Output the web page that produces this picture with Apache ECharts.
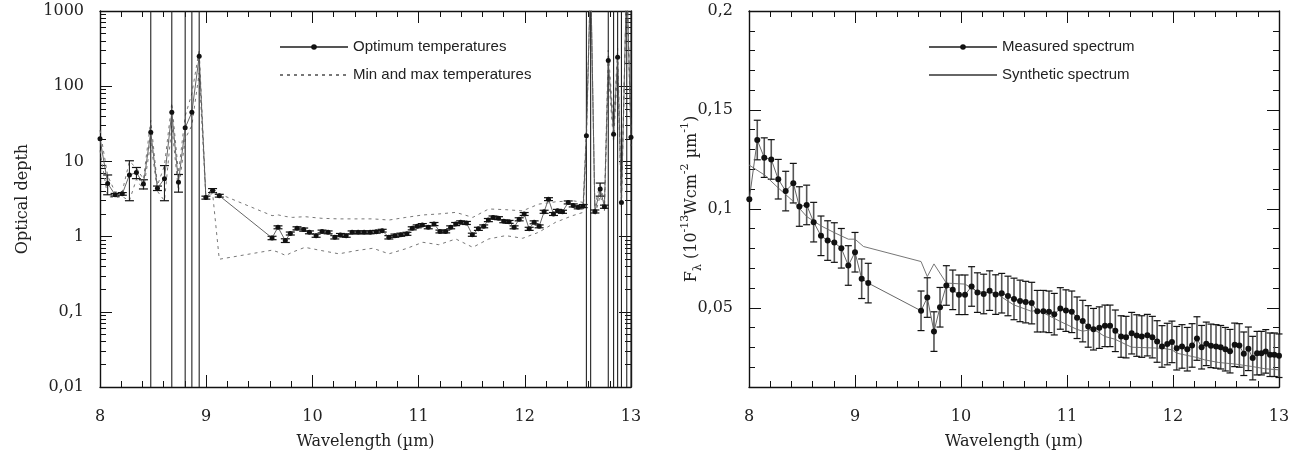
<!DOCTYPE html>
<html>
<head>
<meta charset="utf-8">
<script src="https://cdn.jsdelivr.net/npm/echarts@6/dist/echarts.min.js"></script>
<style>
  html, body { margin: 0; padding: 0; background: #fff; }
  #chart { width: 1307px; height: 455px; }
</style>
</head>
<body>
<div id="chart"></div>
<script>
// ---------- Optical depth (left panel) ----------
const lamOpt = [
  8.000, 8.072, 8.142, 8.210, 8.277, 8.343, 8.409, 8.478, 8.541, 8.607,
  8.676, 8.739, 8.802, 8.865, 8.934, 8.997, 9.060, 9.123,
  9.620, 9.676, 9.745, 9.792, 9.855, 9.918, 9.972, 10.035, 10.091, 10.148,
  10.211, 10.264, 10.318, 10.374, 10.431, 10.487, 10.544, 10.601, 10.657, 10.720,
  10.777, 10.833, 10.890, 10.940, 10.987, 11.035, 11.091, 11.145, 11.201, 11.255,
  11.302, 11.349, 11.396, 11.450, 11.506, 11.563, 11.613, 11.657, 11.701, 11.752,
  11.802, 11.852, 11.899, 11.947, 11.994, 12.041, 12.088, 12.135, 12.182, 12.223,
  12.270, 12.308, 12.355, 12.409, 12.456, 12.503, 12.550,
  12.580, 12.620, 12.660, 12.710, 12.750, 12.786, 12.836, 12.874, 12.910, 12.960, 13.000
];
const tauOpt = [
  20, 5.1, 3.6, 3.7, 6.6, 7.1, 5.0, 24.5, 4.4, 5.9,
  45, 5.3, 28, 45, 250, 3.3, 4.1, 3.5,
  0.96, 1.33, 0.885, 1.1, 1.29, 1.24, 1.14, 1.03, 1.17, 1.14,
  0.98, 1.05, 1.03, 1.14, 1.14, 1.14, 1.14, 1.16, 1.2, 0.98,
  1.03, 1.06, 1.09, 1.29, 1.37, 1.43, 1.33, 1.47, 1.17, 1.17,
  1.33, 1.47, 1.55, 1.52, 1.06, 1.27, 1.37, 1.66, 1.8, 1.76,
  1.6, 1.57, 1.33, 1.7, 2.0, 1.27, 1.55, 1.37, 2.14, 3.15,
  2.0, 2.2, 2.14, 2.85, 2.6, 2.45, 2.55,
  22, 3000, 2.16, 4.3, 2.5, 219, 23, 242, 2.85, 3000, 21
];
// symmetric uncertainty on the optimum optical depth (10000 = unbounded)
const tauErr = [
  0, 1.5, 0.15, 0.15, 3.6, 1.2, 0.7, 10000, 0.3, 2.9,
  10000, 1.4, 10000, 10000, 10000, 0.15, 0.25, 0.15,
  0.05, 0.06, 0.05, 0.05, 0.06, 0.06, 0.05, 0.05, 0.05, 0.05,
  0.05, 0.05, 0.05, 0.05, 0.05, 0.05, 0.05, 0.05, 0.05, 0.05,
  0.05, 0.05, 0.05, 0.06, 0.06, 0.06, 0.06, 0.07, 0.05, 0.05,
  0.06, 0.07, 0.07, 0.07, 0.05, 0.06, 0.06, 0.08, 0.08, 0.08,
  0.07, 0.07, 0.06, 0.08, 0.09, 0.06, 0.07, 0.06, 0.1, 0.14,
  0.09, 0.1, 0.1, 0.13, 0.12, 0.11, 0.12,
  10000, 10000, 0.1, 0.85, 0.12, 10000, 10000, 10000, 10000, 10000, 10000
];
// envelope obtained with the minimum and maximum temperatures
const lamEnv = [
  8.000, 8.072, 8.142, 8.210, 8.277, 8.343, 8.409, 8.478, 8.541, 8.607,
  8.676, 8.739, 8.802, 8.865, 8.934, 8.997, 9.060, 9.123,
  9.62, 9.68, 9.75, 9.81, 9.93, 10.09, 10.25, 10.41, 10.57, 10.72,
  10.88, 11.04, 11.19, 11.35, 11.51, 11.66, 11.82, 11.98, 12.13, 12.29,
  12.45, 12.55,
  12.580, 12.620, 12.660, 12.710, 12.750, 12.786, 12.836, 12.874, 12.910, 12.960, 13.000
];
const tauMin = [
  14, 3.4, 3.3, 3.4, 3.0, 5.8, 4.2, 18, 4.0, 3.0,
  30, 4.0, 20, 30, 150, 3.2, 3.8, 0.5,
  0.66, 0.62, 0.56, 0.62, 0.72, 0.65, 0.59, 0.65, 0.70, 0.59,
  0.69, 0.84, 0.78, 0.93, 0.72, 0.93, 1.03, 0.95, 1.14, 1.55,
  1.9, 2.1,
  18, 3000, 1.9, 3.5, 2.2, 150, 18, 180, 2.4, 3000, 16
];
const tauMax = [
  26, 6.5, 3.9, 4.0, 10, 8.2, 5.8, 35, 4.8, 8.8,
  60, 7.0, 40, 80, 300, 3.5, 4.4, 3.7,
  1.9, 1.94, 1.85, 1.8, 1.84, 1.75, 1.72, 1.72, 1.72, 1.66,
  1.8, 1.94, 2.0, 2.1, 1.8, 2.33, 2.28, 2.2, 2.7, 2.9,
  3.0, 2.85,
  28, 3000, 2.5, 5.2, 2.8, 300, 30, 320, 3.5, 3000, 28
];

// ---------- Flux (right panel) ----------
const lamMeas = [
  8.003, 8.078, 8.144, 8.210, 8.276, 8.346, 8.418, 8.475, 8.544, 8.610,
  8.679, 8.742, 8.805, 8.871, 8.937, 9.000, 9.063, 9.125,
  9.623, 9.682, 9.745, 9.802, 9.862, 9.922, 9.981, 10.038, 10.100, 10.155,
  10.214, 10.270, 10.327, 10.384, 10.443,
  10.500, 10.557, 10.610, 10.667, 10.720, 10.777, 10.830, 10.880, 10.937, 10.990,
  11.045, 11.095, 11.148, 11.200, 11.250, 11.305, 11.358, 11.406, 11.456, 11.510,
  11.557, 11.610, 11.658, 11.705, 11.758, 11.805, 11.850, 11.896, 11.946, 11.990,
  12.035, 12.085, 12.135, 12.180, 12.226, 12.270, 12.314, 12.358, 12.406, 12.450,
  12.494, 12.538, 12.582, 12.626, 12.668, 12.711, 12.752, 12.793, 12.834, 12.875,
  12.915, 12.956, 13.000
];
const fluxMeas = [
  0.1049, 0.1348, 0.1259, 0.1250, 0.1150, 0.1090, 0.1130, 0.1012, 0.1020, 0.0933,
  0.0864, 0.0840, 0.0830, 0.0801, 0.0714, 0.0781, 0.0647, 0.0625,
  0.0485, 0.0552, 0.0380, 0.0503, 0.0613, 0.0591, 0.0566, 0.0566, 0.0608, 0.0577,
  0.0570, 0.0587, 0.0567, 0.0574, 0.0560,
  0.0545, 0.0535, 0.0529, 0.0524, 0.0483, 0.0483, 0.0480, 0.0468, 0.0497, 0.0486,
  0.0480, 0.0450, 0.0433, 0.0406, 0.0392, 0.0400, 0.0409, 0.0409, 0.0384, 0.0355,
  0.0352, 0.0372, 0.0360, 0.0355, 0.0362, 0.0352, 0.0330, 0.0305, 0.0317, 0.0328,
  0.0296, 0.0305, 0.0291, 0.0310, 0.0345, 0.0301, 0.0318, 0.0308, 0.0305, 0.0301,
  0.0291, 0.0281, 0.0313, 0.0310, 0.0268, 0.0293, 0.0246, 0.0271, 0.0271, 0.0280,
  0.0263, 0.0263, 0.0258
];
const fluxErr = [
  0, 0.0100, 0.0100, 0.0100, 0.0100, 0.0100, 0.0100, 0.0100, 0.0100, 0.0100,
  0.0100, 0.0100, 0.0100, 0.0100, 0.0100, 0.0100, 0.0100, 0.0100,
  0.0100, 0.0100, 0.0100, 0.0100, 0.0100, 0.0100, 0.0100, 0.0100, 0.0100, 0.0100,
  0.0100, 0.0100, 0.0100, 0.0100, 0.0100,
  0.0105, 0.0105, 0.0105, 0.0105, 0.0105, 0.0105, 0.0105, 0.0105, 0.0105, 0.0105,
  0.0105, 0.0105, 0.0105, 0.0105, 0.0105, 0.0105, 0.0105, 0.0105, 0.0105, 0.0105,
  0.0105, 0.0105, 0.0105, 0.0105, 0.0105, 0.0105, 0.0105, 0.0105, 0.0105, 0.0105,
  0.0110, 0.0110, 0.0110, 0.0110, 0.0110, 0.0110, 0.0110, 0.0110, 0.0110, 0.0110,
  0.0110, 0.0110, 0.0110, 0.0110, 0.0110, 0.0110, 0.0110, 0.0110, 0.0110, 0.0110,
  0.0110, 0.0110, 0.0110
];
const lamSynth = [
  8.000, 8.150, 8.280, 8.420, 8.545, 8.680, 8.805, 8.937, 9.000, 9.080,
  9.623, 9.682, 9.745, 9.862, 10.038, 10.155, 10.327, 10.497, 10.667, 10.720,
  10.937, 11.090, 11.148, 11.250, 11.358, 11.450, 11.610, 11.896, 11.990, 12.035,
  12.226, 12.300, 12.430, 12.585, 12.740, 12.870, 13.000
];
const fluxSynth = [
  0.1222, 0.1170, 0.1104, 0.1037, 0.0961, 0.0914, 0.0880, 0.0847, 0.0847, 0.0810,
  0.0734, 0.0658, 0.0722, 0.0625, 0.0620, 0.0582, 0.0574, 0.0515, 0.0482, 0.0490,
  0.0431, 0.0392, 0.0382, 0.0392, 0.0355, 0.0342, 0.0301, 0.0296, 0.0288, 0.0271,
  0.0249, 0.0237, 0.0224, 0.0216, 0.0204, 0.0192, 0.0187
];

// ---------- tick values ----------
const wavelengthTicks = [8, 9, 10, 11, 12, 13];
const depthTicks = [0.01, 0.1, 1, 10, 100, 1000];
const fluxTicks = [0.05, 0.1, 0.15, 0.2];
const fluxMinorTicks = [0.02, 0.03, 0.04, 0.06, 0.07, 0.08, 0.09, 0.11, 0.12, 0.13, 0.14,
                        0.16, 0.17, 0.18, 0.19];
const depthMinorTicks = [];
depthTicks.slice(0, -1).forEach(function (d) {
  for (let k = 2; k <= 9; k++) depthMinorTicks.push(+(d * k).toPrecision(6));
});

// ---------- styling ----------
const SERIF = 'DejaVu Serif';
const SANS = 'Liberation Sans';
const INK = '#111';

function comma(v) {
  return String(+(+v).toPrecision(6)).replace('.', ',');
}

function xAxisPair(grid, name) {
  const common = {
    gridIndex: grid, type: 'value', min: 8, max: 13, interval: 1,
    axisLine: { show: true, onZero: false, lineStyle: { color: INK, width: 1.4 } },
    axisTick: { show: true, inside: true, length: 12, lineStyle: { color: INK, width: 1 } },
    minorTick: { show: true, splitNumber: 5, length: 6, lineStyle: { color: INK, width: 1 } },
    splitLine: { show: false }, minorSplitLine: { show: false }
  };
  return [
    Object.assign({}, common, {
      position: 'bottom',
      axisLabel: { show: true, margin: 22, fontFamily: SERIF, fontSize: 16, color: '#222',
                   customValues: wavelengthTicks },
      name: name, nameLocation: 'middle', nameGap: 47, nameMoveOverlap: false,
      nameTextStyle: { fontFamily: SERIF, fontSize: 16, color: '#222' }
    }),
    Object.assign({}, common, { position: 'top', axisLabel: { show: false } })
  ];
}

function yAxisSet(grid, type, min, max, major, minor, labelFmt, name, nameStyle, nameGap) {
  const base = {
    gridIndex: grid, type: type, min: min, max: max,
    splitLine: { show: false }, minorTick: { show: false }
  };
  if (type === 'log') base.logBase = 10;
  const tickStyle = { color: INK, width: 1 };
  return [
    Object.assign({}, base, {
      position: 'left',
      axisLine: { show: true, onZero: false, lineStyle: { color: INK, width: 1.4 } },
      axisTick: { show: true, inside: true, length: 12, customValues: major, lineStyle: tickStyle },
      axisLabel: { show: true, margin: 16, fontFamily: SERIF, fontSize: 16, color: '#222',
                   customValues: major, formatter: labelFmt },
      name: name, nameLocation: 'middle', nameGap: nameGap, nameMoveOverlap: false,
      nameTextStyle: nameStyle
    }),
    Object.assign({}, base, {
      position: 'left', axisLine: { show: false }, axisLabel: { show: false },
      axisTick: { show: true, inside: true, length: 6, customValues: minor, lineStyle: tickStyle }
    }),
    Object.assign({}, base, {
      position: 'right',
      axisLine: { show: true, onZero: false, lineStyle: { color: INK, width: 1.4 } },
      axisLabel: { show: false },
      axisTick: { show: true, inside: true, length: 12, customValues: major, lineStyle: tickStyle }
    }),
    Object.assign({}, base, {
      position: 'right', axisLine: { show: false }, axisLabel: { show: false },
      axisTick: { show: true, inside: true, length: 6, customValues: minor, lineStyle: tickStyle }
    })
  ];
}

// vertical error bars with caps, trimmed to the plotting area
function errorBars(capHalf, barColor, barWidth) {
  return function (params, api) {
    const cs = params.coordSys;
    const top = cs.y, bottom = cs.y + cs.height;
    const x = api.value(0), lo = api.value(1), hi = api.value(2);
    const px = api.coord([x, 1])[0];
    if (px < cs.x - 1 || px > cs.x + cs.width + 1) return null;
    let yLo = lo > 0 ? api.coord([x, lo])[1] : Infinity;
    let yHi = api.coord([x, hi])[1];
    const loCap = yLo <= bottom, hiCap = yHi >= top;
    yLo = Math.min(yLo, bottom);
    yHi = Math.max(yHi, top);
    if (!(yLo > yHi)) return null;
    const children = [{
      type: 'line', shape: { x1: px, y1: yLo, x2: px, y2: yHi },
      style: { stroke: barColor, lineWidth: barWidth }
    }];
    if (loCap) children.push({ type: 'line',
      shape: { x1: px - capHalf, y1: yLo, x2: px + capHalf, y2: yLo },
      style: { stroke: INK, lineWidth: 1.2 } });
    if (hiCap) children.push({ type: 'line',
      shape: { x1: px - capHalf, y1: yHi, x2: px + capHalf, y2: yHi },
      style: { stroke: INK, lineWidth: 1.2 } });
    return { type: 'group', children: children };
  };
}

const optBars = lamOpt.map(function (l, i) {
  return [l, tauOpt[i] - tauErr[i], tauOpt[i] + tauErr[i]];
}).filter(function (d, i) { return tauErr[i] > 0; });
const measBars = lamMeas.map(function (l, i) {
  return [l, fluxMeas[i] - fluxErr[i], fluxMeas[i] + fluxErr[i]];
}).filter(function (d, i) { return fluxErr[i] > 0; });

function pairs(xs, ys) { return xs.map(function (x, i) { return [x, ys[i]]; }); }

const fluxTitle = '{a|F}{s|λ}{a| (10}{p|-13}{a|Wcm}{p|-2}{a| µm}{p|-1}{a|)}';
const fluxTitleStyle = {
  color: '#222',
  rich: {
    a: { fontFamily: SERIF, fontSize: 16, lineHeight: 24, color: '#222' },
    s: { fontFamily: SERIF, fontSize: 11, lineHeight: 24, verticalAlign: 'bottom', color: '#222' },
    p: { fontFamily: SERIF, fontSize: 11, lineHeight: 24, verticalAlign: 'top', color: '#222' }
  }
};

const yLeft = yAxisSet(0, 'log', 0.01, 1000, depthTicks, depthMinorTicks, comma,
                       'Optical depth', { fontFamily: SERIF, fontSize: 16, color: '#222' }, 69);
const yRight = yAxisSet(1, 'value', 0.01, 0.2, fluxTicks, fluxMinorTicks, comma,
                        fluxTitle, fluxTitleStyle, 45);

const legendText = { fontFamily: SANS, fontSize: 15, color: '#222', lineHeight: 16 };
const hideDot = { opacity: 0 };

const option = {
  animation: false,
  backgroundColor: '#fff',
  grid: [
    { left: 100, top: 11, width: 531, height: 376 },
    { left: 749, top: 11, width: 530, height: 376 }
  ],
  xAxis: xAxisPair(0, 'Wavelength (µm)').concat(xAxisPair(1, 'Wavelength (µm)')),
  yAxis: yLeft.concat(yRight),
  legend: [
    {
      data: ['Optimum temperatures', { name: 'Min and max temperatures', itemStyle: hideDot }],
      orient: 'vertical', left: 274, top: 34, itemWidth: 68, itemHeight: 7, itemGap: 12,
      selectedMode: false, textStyle: legendText
    },
    {
      data: ['Measured spectrum', { name: 'Synthetic spectrum', itemStyle: hideDot }],
      orient: 'vertical', left: 923, top: 34, itemWidth: 68, itemHeight: 7, itemGap: 12,
      selectedMode: false, textStyle: legendText
    }
  ],
  series: [
    {
      name: 'Min and max temperatures', type: 'line', xAxisIndex: 0, yAxisIndex: 0,
      data: pairs(lamEnv, tauMin), symbol: 'none', itemStyle: { color: '#777' },
      lineStyle: { color: '#777', width: 1, type: [3, 4] }, z: 2
    },
    {
      name: 'Min and max temperatures', type: 'line', xAxisIndex: 0, yAxisIndex: 0,
      data: pairs(lamEnv, tauMax), symbol: 'none', itemStyle: { color: '#777' },
      lineStyle: { color: '#777', width: 1, type: [3, 4] }, z: 2
    },
    {
      name: 'optimum-errors', type: 'custom', xAxisIndex: 0, yAxisIndex: 0,
      renderItem: errorBars(4.5, '#222', 1.1), data: optBars, z: 3, silent: true
    },
    {
      name: 'Optimum temperatures', type: 'line', xAxisIndex: 0, yAxisIndex: 0,
      data: pairs(lamOpt, tauOpt), symbol: 'circle', symbolSize: 5,
      itemStyle: { color: '#111' }, lineStyle: { color: '#555', width: 0.9 }, z: 4
    },
    {
      name: 'measured-errors', type: 'custom', xAxisIndex: 2, yAxisIndex: 4,
      renderItem: errorBars(3.5, '#555', 1.6), data: measBars, z: 3, silent: true
    },
    {
      name: 'Synthetic spectrum', type: 'line', xAxisIndex: 2, yAxisIndex: 4,
      data: pairs(lamSynth, fluxSynth), symbol: 'none', itemStyle: { color: '#666' },
      lineStyle: { color: '#666', width: 0.9 }, z: 4
    },
    {
      name: 'Measured spectrum', type: 'line', xAxisIndex: 2, yAxisIndex: 4,
      data: pairs(lamMeas, fluxMeas), symbol: 'circle', symbolSize: 6,
      itemStyle: { color: '#111' }, lineStyle: { color: '#555', width: 0.9 }, z: 5
    }
  ]
};

const chart = echarts.init(document.getElementById('chart'), null, { renderer: 'canvas' });
chart.setOption(option);
</script>
</body>
</html>
